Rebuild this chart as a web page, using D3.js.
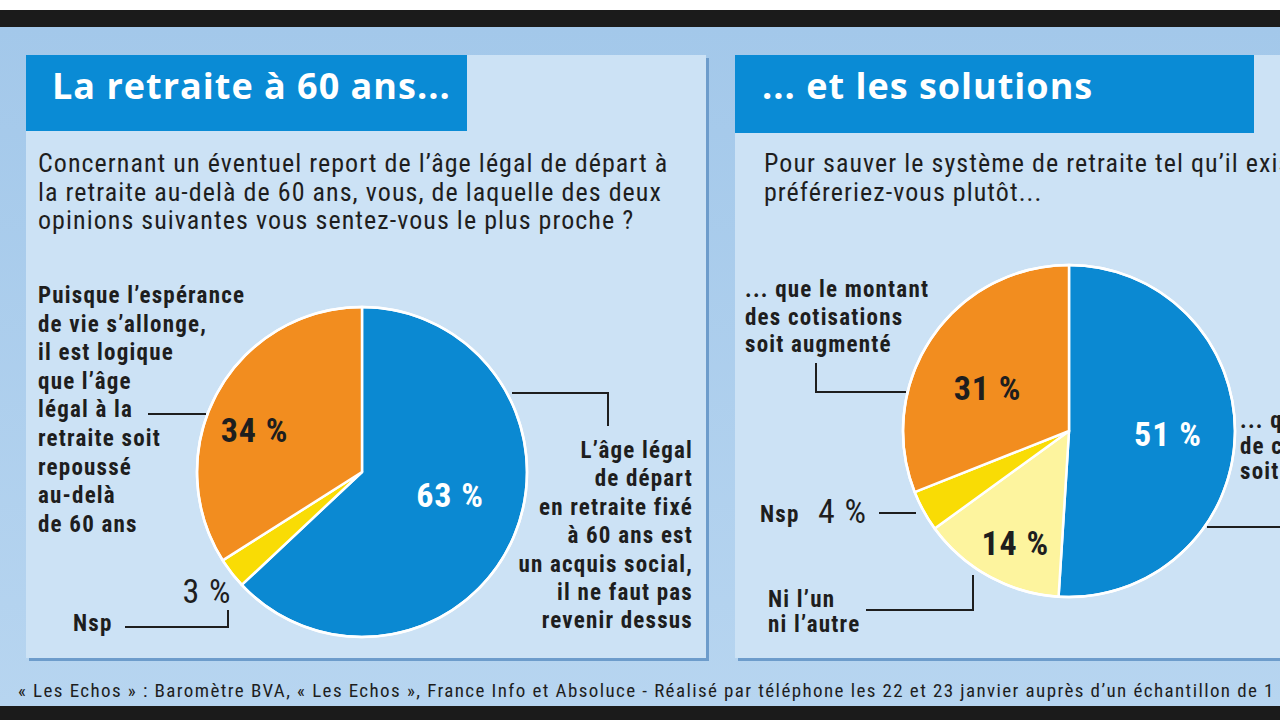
<!DOCTYPE html>
<html><head><meta charset="utf-8">
<script src="https://cdn.jsdelivr.net/npm/d3@7"></script>
<style>
html,body{margin:0;padding:0;background:#fff;}
svg{display:block;}
.cond{font-family:"Liberation Sans Narrow","Roboto Condensed","Arial Narrow",sans-serif;}
</style></head>
<body><svg id="c" width="1280" height="720"></svg>
<script>
// ---- data ----
const leftTitle = "La retraite à 60 ans...";
const leftQuestion = ["Concernant un éventuel report de l’âge légal de départ à",
  "la retraite au-delà de 60 ans, vous, de laquelle des deux",
  "opinions suivantes vous sentez-vous le plus proche ?"];
const leftCategories = ["Acquis social", "Nsp", "Repousser l’âge"];
const leftValues = [63, 3, 34];
const leftLabelA = ["Puisque l’espérance","de vie s’allonge,","il est logique","que l’âge","légal à la","retraite soit","repoussé","au-delà","de 60 ans"];
const leftLabelB = ["L’âge légal","de départ","en retraite fixé","à 60 ans est","un acquis social,","il ne faut pas","revenir dessus"];

const rightTitle = "... et les solutions";
const rightQuestion = ["Pour sauver le système de retraite tel qu’il existe,",
  "préféreriez-vous plutôt..."];
const rightCategories = ["Durée allongée", "Ni l’un ni l’autre", "Nsp", "Cotisations augmentées"];
const rightValues = [51, 14, 4, 31];
const rightLabelA = ["... que le montant","des cotisations","soit augmenté"];
const rightLabelB = ["... que la durée","de cotisation","soit allongée"];
const rightLabelC = ["Ni l’un","ni l’autre"];

const footer = "« Les Echos » : Baromètre BVA, « Les Echos », France Info et Absoluce - Réalisé par téléphone les 22 et 23 janvier auprès d’un échantillon de 1";

// ---- styles ----
const BLUE = "#0b89d2", ORANGE = "#f28d1f", GOLD = "#f9dc05", PALE = "#fdf49e";
const INK = "#1e1e1e";
const leftColors = [BLUE, GOLD, ORANGE];
const rightColors = [BLUE, PALE, GOLD, ORANGE];

const svg = d3.select("#c");
svg.append("rect").attr("width",1280).attr("height",720).attr("fill","#fff");
svg.append("rect").attr("y",10).attr("width",1280).attr("height",17).attr("fill","#1b1b1b");
const bg = svg.append("defs").append("linearGradient").attr("id","bgg").attr("x1",0).attr("y1",0).attr("x2",0).attr("y2",1);
bg.append("stop").attr("offset",0).attr("stop-color","#a3c8ea");
bg.append("stop").attr("offset",1).attr("stop-color","#b7d5f0");
svg.append("rect").attr("y",27).attr("width",1280).attr("height",679).attr("fill","url(#bgg)");
svg.append("rect").attr("y",706).attr("width",1280).attr("height",14).attr("fill","#1b1b1b");

function panel(x, w, tw, th, title, tx){
  svg.append("rect").attr("x",x+3).attr("y",58).attr("width",w).attr("height",603).attr("fill","#6d9ccb");
  svg.append("rect").attr("x",x).attr("y",55).attr("width",w).attr("height",603).attr("fill","#cce2f5");
  svg.append("rect").attr("x",x).attr("y",55).attr("width",tw).attr("height",th).attr("fill","#0a8bd5");
  svg.append("text").attr("x",tx).attr("y",99).attr("fill","#fff")
    .attr("font-family","'Open Sans',sans-serif").attr("font-weight",700).attr("font-size",36)
    .attr("letter-spacing",1).text(title);
}
panel(26, 680, 441, 76, leftTitle, 52);
panel(735, 560, 519, 78, rightTitle, 762);

function lines(arr, x, y0, dy, opts){
  const t = svg.append("text").attr("class","cond").attr("fill",INK)
    .attr("font-size",opts.size).attr("font-weight",opts.weight||400)
    .attr("letter-spacing",opts.ls||0)
    .attr("text-anchor",opts.anchor||"start");
  arr.forEach((s,i)=>t.append("tspan").attr("x",x).attr("y",y0+i*dy).text(s));
  return t;
}
lines(leftQuestion, 38, 172, 28.5, {size:26, ls:1.05});
lines(rightQuestion, 764, 172, 28.5, {size:26, ls:1.05});

function leader(pts){
  svg.append("path").attr("d", d3.line()(pts)).attr("fill","none").attr("stroke",INK).attr("stroke-width",2);
}

function pie(values, colors, cx, cy, r){
  const arcs = d3.pie().sort(null).value(d=>d)(values);
  const arc = d3.arc().innerRadius(0).outerRadius(r);
  const g = svg.append("g").attr("transform",`translate(${cx},${cy})`);
  g.selectAll("path").data(arcs).join("path").attr("d",arc)
    .attr("fill",(d,i)=>colors[i]).attr("stroke","#fff").attr("stroke-width",2.5).attr("stroke-linejoin","round");
  g.append("circle").attr("r",r).attr("fill","none").attr("stroke","#fff").attr("stroke-width",2.5);
  return {g, arcs};
}
function pctLabel(g, d, rad, color, dx, dy){
  const c = d3.arc().innerRadius(rad).outerRadius(rad).centroid(d);
  g.append("text").attr("class","cond").attr("x",c[0]+dx).attr("y",c[1]+dy)
    .attr("text-anchor","middle").attr("dominant-baseline","central")
    .attr("fill",color).attr("font-size",34).attr("font-weight",700).attr("letter-spacing",1)
    .text(d.data + " %");
}

// left pie
const L = pie(leftValues, leftColors, 362, 472, 165);
pctLabel(L.g, L.arcs[0], 96, "#fff", 0, -15);
pctLabel(L.g, L.arcs[2], 118, INK, -4, 15);
svg.append("text").attr("class","cond").attr("x",207).attr("y",603).attr("text-anchor","middle")
  .attr("fill",INK).attr("font-size",34).attr("letter-spacing",1).text(leftValues[1] + " %");
svg.append("text").attr("class","cond").attr("x",73).attr("y",631).attr("fill",INK)
  .attr("font-size",23).attr("font-weight",700).attr("letter-spacing",1.2).text(leftCategories[1]);
leader([[125,627],[228,627],[228,610]]);
lines(leftLabelA, 38, 303, 28.6, {size:23, weight:700, ls:1.2});
leader([[148,414],[206,414]]);
lines(leftLabelB, 693, 458, 28.4, {size:23, weight:700, ls:1.2, anchor:"end"});
leader([[512,393],[608,393],[608,426]]);

// right pie
const R = pie(rightValues, rightColors, 1069, 431, 166);
pctLabel(R.g, R.arcs[0], 99, "#fff", 0, 0);
pctLabel(R.g, R.arcs[1], 128, INK, 8, 0);
pctLabel(R.g, R.arcs[3], 96, INK, -2, 11);
svg.append("text").attr("class","cond").attr("x",760).attr("y",522).attr("fill",INK)
  .attr("font-size",23).attr("font-weight",700).attr("letter-spacing",1.2).text(rightCategories[2]);
svg.append("text").attr("class","cond").attr("x",818).attr("y",523).attr("fill",INK)
  .attr("font-size",34).attr("letter-spacing",1).text(rightValues[2] + " %");
leader([[879,513],[916,513]]);
lines(rightLabelA, 745, 297, 27.5, {size:23, weight:700, ls:1.2});
leader([[816,363],[816,392],[906,392]]);
lines(rightLabelC, 768, 607, 25, {size:23, weight:700, ls:1.2});
leader([[866,610],[973,610],[973,575]]);
lines(rightLabelB, 1240, 428, 25.5, {size:23, weight:700, ls:1.2});
leader([[1207,527],[1290,527]]);

svg.append("text").attr("class","cond").attr("x",18).attr("y",697).attr("fill",INK)
  .attr("font-size",19).attr("letter-spacing",1.4).text(footer);
</script></body></html>
